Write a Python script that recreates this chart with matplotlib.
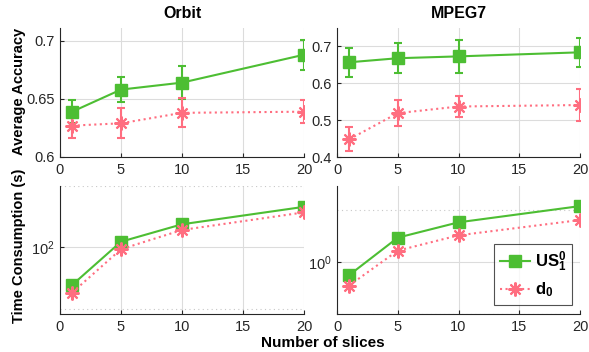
import matplotlib
matplotlib.use("Agg")
from matplotlib import pyplot as plt
from matplotlib.ticker import FixedLocator, NullFormatter, LogFormatterMathtext

plt.rcParams['font.family'] = ['Liberation Sans', 'DejaVu Sans']
plt.rcParams['mathtext.fontset'] = 'custom'
plt.rcParams['mathtext.rm'] = 'Liberation Sans'
plt.rcParams['mathtext.bf'] = 'Liberation Sans:bold'

slices = [1, 5, 10, 20]

orbit_acc_us = [0.639, 0.658, 0.664, 0.688]
orbit_err_us = [0.010, 0.0105, 0.014, 0.013]
orbit_acc_d0 = [0.627, 0.629, 0.638, 0.639]
orbit_err_d0 = [0.011, 0.013, 0.0125, 0.010]

mpeg_acc_us = [0.657, 0.668, 0.673, 0.684]
mpeg_err_us = [0.040, 0.040, 0.045, 0.040]
mpeg_acc_d0 = [0.448, 0.519, 0.537, 0.541]
mpeg_err_d0 = [0.033, 0.036, 0.028, 0.043]

orbit_time_us = [65.3, 106.5, 129.7, 158.0]
orbit_time_d0 = [59.9, 97.8, 121.6, 148.4]
mpeg_time_us = [0.841, 1.388, 1.704, 2.117]
mpeg_time_d0 = [0.732, 1.167, 1.432, 1.757]

green = "#4dbe33"
pink = "#ff6e80"
grid_col = "#dcdcdc"
asterisk = (8, 2, 0)

fig = plt.figure(figsize=(5.89, 3.52), dpi=100)
W, H = 589, 352


def make_ax(l, r, t, b):
    return fig.add_axes([l / W, 1 - b / H, (r - l) / W, (b - t) / H])


ax_tl = make_ax(60, 304, 28, 157)
ax_tr = make_ax(337, 580, 28, 157)
ax_bl = make_ax(60, 304, 186, 314)
ax_br = make_ax(337, 580, 186, 314)


def style(ax):
    for s in ["top", "right"]:
        ax.spines[s].set_visible(False)
    for s in ["left", "bottom"]:
        ax.spines[s].set_color("#262626")
        ax.spines[s].set_linewidth(0.8)
    ax.set_xlim(0, 20)
    ax.set_xticks([0, 5, 10, 15, 20])
    ax.tick_params(direction="in", length=3, width=0.8, labelsize=10.5,
                   colors="#262626", pad=4)
    ax.grid(True, color=grid_col, linewidth=0.8)
    ax.set_axisbelow(True)


for ax, us, ue, d, de, ylim, yt in [
    (ax_tl, orbit_acc_us, orbit_err_us, orbit_acc_d0, orbit_err_d0, (0.6, 0.711), [0.6, 0.65, 0.7]),
    (ax_tr, mpeg_acc_us, mpeg_err_us, mpeg_acc_d0, mpeg_err_d0, (0.4, 0.75), [0.4, 0.5, 0.6, 0.7]),
]:
    style(ax)
    ax.errorbar(slices, us, yerr=ue, color=green, marker="s", markersize=8,
                linewidth=1.5, elinewidth=1.5, capsize=3, capthick=1.5)
    ax.errorbar(slices, d, yerr=de, color=pink, marker=asterisk, markersize=10,
                markeredgewidth=1.5, linestyle=":", linewidth=1.5, elinewidth=1.5,
                capsize=3, capthick=1.5)
    ax.set_ylim(*ylim)
    ax.set_yticks(yt)
    ax.set_yticklabels([f"{v:g}" for v in yt])

for ax, us, d, ylim, major, minor in [
    (ax_bl, orbit_time_us, orbit_time_d0, (47, 200), [100], [50, 200]),
    (ax_br, mpeg_time_us, mpeg_time_d0, (0.5, 2.77), [1], [0.5, 2]),
]:
    style(ax)
    ax.set_yscale("log")
    ax.plot(slices, us, color=green, marker="s", markersize=8, linewidth=1.5,
            label=r"$\mathbf{US_1^0}$")
    ax.plot(slices, d, color=pink, marker=asterisk, markersize=10, markeredgewidth=1.5,
            linestyle=":", linewidth=1.5, label=r"$\mathbf{d_0}$")
    ax.set_ylim(*ylim)
    ax.yaxis.set_major_locator(FixedLocator(major))
    ax.yaxis.set_major_formatter(LogFormatterMathtext())
    ax.yaxis.set_minor_locator(FixedLocator(minor))
    ax.yaxis.set_minor_formatter(NullFormatter())
    ax.grid(True, axis="y", which="major", color=grid_col, linewidth=0.8)
    ax.grid(True, axis="y", which="minor", color="#c8c8c8", linewidth=0.8,
            linestyle=(0, (1, 3)))
    ax.tick_params(axis="y", which="minor", length=0)

ax_tl.set_title("Orbit", fontweight="bold", fontsize=11.5, pad=7)
ax_tr.set_title("MPEG7", fontweight="bold", fontsize=11.5, pad=7)
fig.text(19 / W, 1 - 91 / H, "Average Accuracy", rotation=90, ha="center", va="center",
         fontweight="bold", fontsize=10.5)
fig.text(19 / W, 1 - 246 / H, "Time Consumption (s)", rotation=90, ha="center", va="center",
         fontweight="bold", fontsize=10.5)
fig.text(323 / W, 1 - 343 / H, "Number of slices", ha="center", va="center",
         fontweight="bold", fontsize=11)

leg = ax_br.legend(loc="lower right", bbox_to_anchor=(0.967, 0.07), fontsize=12,
                   frameon=True, fancybox=False, edgecolor="#262626", handlelength=1.8,
                   handletextpad=0.3, borderpad=0.35, labelspacing=0.4, borderaxespad=0)
leg.get_frame().set_linewidth(0.8)

fig.savefig("out.png", dpi=100)
